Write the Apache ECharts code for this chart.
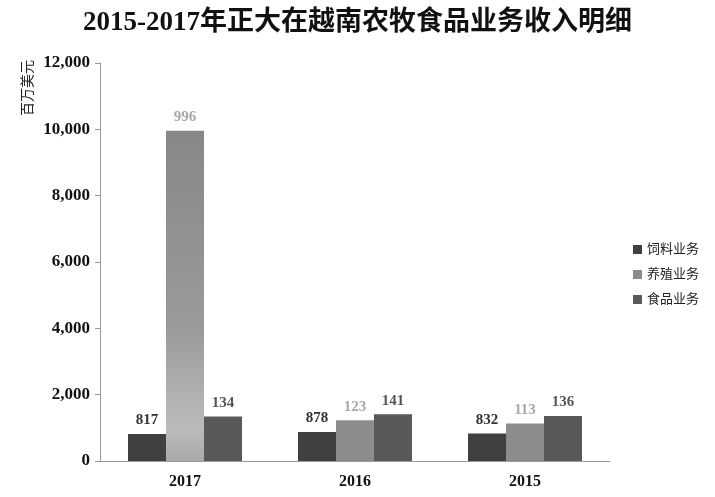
<!DOCTYPE html>
<html>
<head>
<meta charset="utf-8">
<script src="https://cdn.jsdelivr.net/npm/echarts@6/dist/echarts.min.js"></script>
<style>
  html, body { margin: 0; padding: 0; background: #fff; }
  #chart { width: 715px; height: 497px; }
</style>
</head>
<body>
<div id="chart"></div>
<script>
// 年份
var years = ['2017', '2016', '2015'];
// 各业务收入（百万美元）
var feedValues = [817, 878, 832];
var breedValues = [9960, 1230, 1130];
var foodValues = [1340, 1410, 1360];
// 图上标注的数字
var feedLabels = ['817', '878', '832'];
var breedLabels = ['996', '123', '113'];
var foodLabels = ['134', '141', '136'];
var seriesNames = ['饲料业务', '养殖业务', '食品业务'];

var serif = '"Liberation Serif", "Noto Sans CJK SC", serif';

var chart = echarts.init(document.getElementById('chart'));

function labelOf(arr, color) {
  return {
    show: true,
    position: 'top',
    distance: 6,
    color: color,
    fontFamily: serif,
    fontWeight: 'bold',
    fontSize: 15,
    formatter: function (p) { return arr[p.dataIndex]; }
  };
}

var breedData = breedValues.map(function (v, i) {
  if (i === 0) {
    return {
      value: v,
      itemStyle: {
        color: new echarts.graphic.LinearGradient(0, 0, 0, 1, [
          { offset: 0, color: '#878787' },
          { offset: 0.6, color: '#9a9a9a' },
          { offset: 0.9, color: '#bcbcbc' },
          { offset: 1, color: '#a9a9a9' }
        ])
      }
    };
  }
  return v;
});

chart.setOption({
  animation: false,
  title: {
    text: '2015-2017年正大在越南农牧食品业务收入明细',
    left: 'center',
    top: 5,
    textStyle: { fontFamily: serif, fontSize: 27, fontWeight: 'bold', color: '#111' }
  },
  graphic: [{
    type: 'text',
    x: 21,
    y: 116,
    rotation: Math.PI / 2,
    style: { text: '百万美元', fontFamily: serif, fontSize: 14, fill: '#222' }
  }],
  legend: {
    orient: 'vertical',
    left: 628,
    top: 238,
    itemWidth: 9,
    itemHeight: 9,
    itemGap: 12,
    icon: 'rect',
    data: seriesNames,
    textStyle: { fontFamily: serif, fontSize: 13, color: '#222' }
  },
  grid: { left: 100, right: 105, top: 63, bottom: 36 },
  xAxis: {
    type: 'category',
    data: years,
    axisLine: { lineStyle: { color: '#999' } },
    axisTick: { show: false },
    axisLabel: { fontFamily: serif, fontWeight: 'bold', fontSize: 16, color: '#111', margin: 13 }
  },
  yAxis: {
    type: 'value',
    min: 0,
    max: 12000,
    interval: 2000,
    axisLine: { show: true, lineStyle: { color: '#999' } },
    axisTick: { show: true, length: 5, lineStyle: { color: '#999' } },
    splitLine: { show: false },
    axisLabel: {
      fontFamily: serif, fontWeight: 'bold', fontSize: 17, color: '#111', margin: 10,
      formatter: function (v) { return v.toLocaleString('en-US'); }
    }
  },
  series: [
    {
      name: seriesNames[0], type: 'bar', data: feedValues, barWidth: 38, barGap: '0%',
      itemStyle: { color: '#404040' }, label: labelOf(feedLabels, '#333')
    },
    {
      name: seriesNames[1], type: 'bar', data: breedData, barWidth: 38,
      itemStyle: { color: '#8c8c8c' }, label: labelOf(breedLabels, '#a8a8a8')
    },
    {
      name: seriesNames[2], type: 'bar', data: foodValues, barWidth: 38,
      itemStyle: { color: '#595959' }, label: labelOf(foodLabels, '#555')
    }
  ]
});
</script>
</body>
</html>
